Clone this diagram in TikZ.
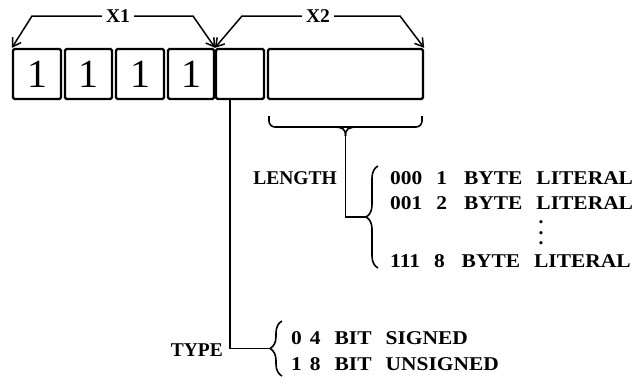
\documentclass[tikz,border=0pt]{standalone}
\usepackage{fontspec}
\setmainfont{Liberation Serif}
\usetikzlibrary{arrows.meta,decorations.pathreplacing}
\tikzset{
  cell/.style={draw,line width=2.3pt,rounded corners=1.5pt,minimum height=50pt,inner sep=0pt,font=\fontsize{40}{40}\selectfont},
  lbl/.style={inner sep=0pt,font=\fontsize{19.5}{22}\selectfont\bfseries},
  item/.style={lbl,anchor=base west,font=\fontsize{19.5}{22}\selectfont\bfseries\addfontfeature{FakeStretch=1.1}},
  arr/.style={-{Straight Barb[length=8pt,width=10pt,line width=1.5pt]},line width=1.5pt},
  brc/.style={decorate,decoration={brace,amplitude=12pt},line width=1.6pt},
  wire/.style={line width=1.6pt}
}
\begin{document}
\begin{tikzpicture}[x=1pt,y=-1pt]
        \useasboundingbox (0,0) rectangle (636,378);
        % the byte
        \node[cell,minimum width=48pt] (b1) at (37,74) {1};
        \node[cell,minimum width=47pt] (b2) at (88.5,74) {1};
        \node[cell,minimum width=48pt] (b3) at (140,74) {1};
        \node[cell,minimum width=46pt] (b4) at (191,74) {1};
        \node[cell,minimum width=48pt] (b5) at (240,74) {};
        \node[cell,minimum width=155pt] (b6) at (345.5,74) {};
        % fields
        \node[lbl,inner sep=4pt] (x1) at (118,16) {X1};
        \node[lbl,inner sep=4pt] (x2) at (318,16) {X2};
        \draw[arr] (x1.west) -- (32,16) -- (b1.north west);
        \draw[arr] (x1.east) -- (193,16) -- (b4.north east);
        \draw[arr] (x2.west) -- (242,16) -- (b5.north west);
        \draw[arr] (x2.east) -- (400,16) -- (b6.north east);
        % length
        \draw[wire,rounded corners=6pt] (269,116) -- (269,127) -- (422,127) -- (422,116);
        \coordinate (ltip) at (345.5,136);
        \draw[wire] (333,127) .. controls (343,127) and (345.5,129) .. (ltip);
        \draw[wire] (358,127) .. controls (348,127) and (345.5,129) .. (ltip);
        \draw[brc] (378,268) -- (378,166);
        \coordinate (lbr) at (366,217);
        \draw[wire] (ltip) |- (lbr);
        \node[lbl,anchor=base east] (len) at (337,184.5) {LENGTH};
        \node[item] (l1) at (390,184.5) {000\hspace{14pt}1\hspace{17pt}BYTE\hspace{14pt}LITERAL};
        \node[item] (l2) at (390,209.5) {001\hspace{14pt}2\hspace{17pt}BYTE\hspace{14pt}LITERAL};
        \node[lbl] (dots) at (541,233) {\vbox{\baselineskip10.5pt\hbox{.}\hbox{.}\hbox{.}}};
        \node[item] (l3) at (390,267.5) {111\hspace{14pt}8\hspace{17pt}BYTE\hspace{14pt}LITERAL};
        % type
        \draw[brc] (282,376) -- (282,321);
        \coordinate (tbr) at (270,348.5);
        \draw[wire] ([xshift=-10pt]b5.south) |- (tbr);
        \node[lbl,anchor=base east] (type) at (223,356.5) {TYPE};
        \node[item] (t1) at (291,344.5) {0\hspace{8pt}4\hspace{14pt}BIT\hspace{14pt}SIGNED};
        \node[item] (t2) at (291,370.5) {1\hspace{8pt}8\hspace{14pt}BIT\hspace{14pt}UNSIGNED};
\end{tikzpicture}
\end{document}
